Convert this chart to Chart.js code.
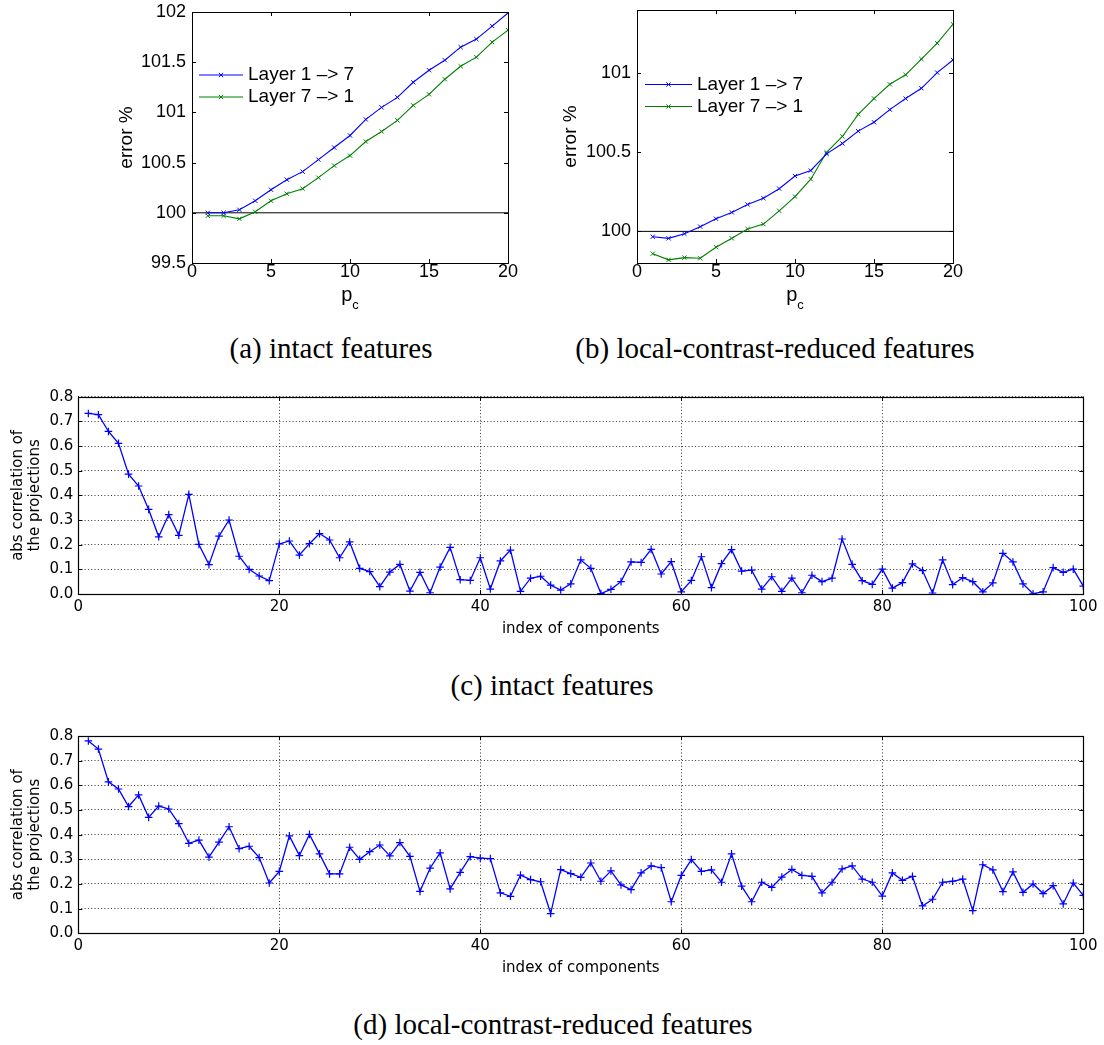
<!DOCTYPE html>
<html>
<head>
<meta charset="utf-8">
<script src="https://cdn.jsdelivr.net/npm/chart.js@4.4.0/dist/chart.umd.min.js"></script>
<style>
  body { margin: 0; background: #fff; }
  #page { position: relative; width: 1104px; height: 1045px; overflow: hidden; }
  canvas { position: absolute; }
  .caption {
    position: absolute; width: 600px; text-align: center; white-space: nowrap;
    font-family: "Liberation Serif", "Times New Roman", serif; font-size: 29px; line-height: 29px; color: #000;
  }
  .pc {
    position: absolute; width: 60px; text-align: center;
    font-family: "Liberation Sans", Arial, sans-serif; font-size: 20px; line-height: 18px; color: #000;
  }
  .pc sub { font-size: 13px; line-height: 0; vertical-align: -8px; }
</style>
</head>
<body>
<div id="page">
  <canvas id="errIntact" width="430" height="320" style="left:100px; top:0px;"></canvas>
  <canvas id="errReduced" width="430" height="320" style="left:545px; top:0px;"></canvas>
  <div class="pc" style="left:320px; top:285px;">p<sub>c</sub></div>
  <div class="pc" style="left:765px; top:285px;">p<sub>c</sub></div>
  <div class="caption" style="left:31px; top:334px;">(a) intact features</div>
  <div class="caption" style="left:475px; top:334px;">(b) local-contrast-reduced features</div>

  <canvas id="corrIntact" width="1104" height="270" style="left:0px; top:380px;"></canvas>
  <div class="caption" style="left:252px; top:671px;">(c) intact features</div>

  <canvas id="corrReduced" width="1104" height="270" style="left:0px; top:720px;"></canvas>
  <div class="caption" style="left:253px; top:1010px;">(d) local-contrast-reduced features</div>
</div>

<script>
/* ---------- data ---------- */
const pcValues = [1, 2, 3, 4, 5, 6, 7, 8, 9, 10, 11, 12, 13, 14, 15, 16, 17, 18, 19, 20];
const pcTicks = [0, 5, 10, 15, 20];
const refLevel = 100;

// error % for intact features
const errIntactFwd = [100.00, 100.00, 100.03, 100.12, 100.23, 100.33, 100.41, 100.53, 100.65, 100.77,
                      100.93, 101.05, 101.15, 101.30, 101.42, 101.52, 101.65, 101.73, 101.86, 101.99];
const errIntactBwd = [99.97, 99.97, 99.94, 100.01, 100.12, 100.19, 100.24, 100.35, 100.47, 100.57,
                      100.71, 100.81, 100.92, 101.07, 101.18, 101.33, 101.46, 101.55, 101.70, 101.82];
const errIntactTicks = [99.5, 100, 100.5, 101, 101.5, 102];
const errIntactLimits = [99.5, 102];

// error % for local-contrast-reduced features
const errReducedFwd = [99.966, 99.956, 99.985, 100.03, 100.08, 100.12, 100.17, 100.21, 100.27, 100.35,
                       100.385, 100.49, 100.556, 100.634, 100.69, 100.77, 100.84, 100.905, 101.004, 101.084];
const errReducedBwd = [99.859, 99.82, 99.834, 99.83, 99.90, 99.956, 100.015, 100.046, 100.13, 100.22,
                       100.33, 100.50, 100.60, 100.74, 100.84, 100.93, 100.99, 101.09, 101.19, 101.31];
const errReducedTicks = [100, 100.5, 101];
const errReducedLimits = [99.8, 101.4];

const seriesNames = ['Layer 1 –> 7', 'Layer 7 –> 1'];

// abs correlation of the projections, components 1..100
const corrIntact = [
  0.732, 0.727, 0.659, 0.611, 0.486, 0.438, 0.343, 0.232, 0.322, 0.238,
  0.404, 0.201, 0.119, 0.235, 0.300, 0.153, 0.100, 0.073, 0.054, 0.203,
  0.215, 0.158, 0.204, 0.245, 0.219, 0.147, 0.211, 0.104, 0.091, 0.030,
  0.089, 0.120, 0.012, 0.088, 0.005, 0.109, 0.189, 0.058, 0.055, 0.147,
  0.020, 0.134, 0.178, 0.011, 0.064, 0.072, 0.036, 0.016, 0.041, 0.138,
  0.104, 0.002, 0.019, 0.050, 0.130, 0.128, 0.181, 0.081, 0.131, 0.009,
  0.055, 0.151, 0.026, 0.123, 0.180, 0.093, 0.097, 0.020, 0.070, 0.011,
  0.064, 0.005, 0.076, 0.050, 0.064, 0.223, 0.120, 0.054, 0.039, 0.101,
  0.024, 0.046, 0.122, 0.095, 0.004, 0.138, 0.038, 0.066, 0.050, 0.009,
  0.045, 0.165, 0.130, 0.041, 0.001, 0.009, 0.107, 0.088, 0.101, 0.032
];
const corrReduced = [
  0.780, 0.747, 0.614, 0.585, 0.514, 0.561, 0.470, 0.516, 0.504, 0.445,
  0.365, 0.378, 0.309, 0.370, 0.432, 0.343, 0.353, 0.307, 0.204, 0.251,
  0.395, 0.315, 0.401, 0.322, 0.241, 0.241, 0.349, 0.300, 0.331, 0.358,
  0.314, 0.368, 0.312, 0.170, 0.264, 0.326, 0.180, 0.247, 0.311, 0.305,
  0.303, 0.164, 0.150, 0.236, 0.218, 0.209, 0.080, 0.258, 0.242, 0.227,
  0.285, 0.211, 0.253, 0.196, 0.177, 0.245, 0.273, 0.266, 0.128, 0.235,
  0.299, 0.251, 0.257, 0.207, 0.322, 0.191, 0.128, 0.207, 0.186, 0.228,
  0.259, 0.235, 0.231, 0.164, 0.207, 0.261, 0.273, 0.220, 0.207, 0.151,
  0.245, 0.215, 0.231, 0.111, 0.138, 0.207, 0.211, 0.220, 0.092, 0.278,
  0.257, 0.169, 0.249, 0.166, 0.200, 0.161, 0.193, 0.119, 0.204, 0.154
];
const indexTicks = [0, 20, 40, 60, 80, 100];
const corrTicks = [0, 0.1, 0.2, 0.3, 0.4, 0.5, 0.6, 0.7, 0.8];

/* ---------- styles ---------- */
const MATLAB_FONT = '"Liberation Sans", Arial, sans-serif';
const MPL_FONT = '"DejaVu Sans", sans-serif';
const BLUE = '#0000ff';
const GREEN = '#008000';

Chart.defaults.color = '#000';
Chart.defaults.animation = false;

function xy(xs, ys) {
    return ys.map((v, i) => ({ x: xs[i], y: v }));
}
function fixedTicks(list) {
    return s => { s.ticks = list.map(v => ({ value: v })); };
}

/* ---------- plugins ---------- */
// box around the plot area + inward tick marks on all four sides
const boxTicks = {
    id: 'boxTicks',
    afterDatasetsDraw(chart, args, opts) {
        const { ctx, chartArea: a, scales } = chart;
        const len = opts.len || 4;
        ctx.save();
        ctx.setLineDash([]);
        ctx.strokeStyle = '#000';
        ctx.lineWidth = 1;
        ctx.beginPath();
        scales.x.ticks.forEach(t => {
            const px = Math.round(scales.x.getPixelForValue(t.value)) + 0.5;
            ctx.moveTo(px, a.bottom); ctx.lineTo(px, a.bottom - len);
            ctx.moveTo(px, a.top); ctx.lineTo(px, a.top + len);
        });
        scales.y.ticks.forEach(t => {
            const py = Math.round(scales.y.getPixelForValue(t.value)) + 0.5;
            ctx.moveTo(a.left, py); ctx.lineTo(a.left + len, py);
            ctx.moveTo(a.right, py); ctx.lineTo(a.right - len, py);
        });
        ctx.stroke();
        ctx.lineWidth = opts.frame || 1;
        ctx.strokeRect(Math.round(a.left) + 0.5, Math.round(a.top) + 0.5,
                       Math.round(a.right - a.left), Math.round(a.bottom - a.top));
        ctx.restore();
    }
};

// matlab style legend: short line with the marker in its middle, then the label
const lineLegend = {
    id: 'lineLegend',
    afterDraw(chart, args, opts) {
        if (!opts.items) return;
        const { ctx } = chart;
        ctx.save();
        ctx.font = opts.font;
        ctx.textBaseline = 'middle';
        opts.items.forEach((idx, row) => {
            const ds = chart.data.datasets[idx];
            const y = opts.y + row * opts.rowH;
            ctx.strokeStyle = ds.borderColor;
            ctx.lineWidth = ds.borderWidth;
            ctx.beginPath();
            ctx.moveTo(opts.x, y);
            ctx.lineTo(opts.x + opts.lineLen, y);
            ctx.stroke();
            ctx.lineWidth = ds.pointBorderWidth;
            Chart.helpers.drawPoint(ctx, { pointStyle: ds.pointStyle, radius: ds.pointRadius, borderWidth: 1, rotation: 0 },
                                    opts.x + opts.lineLen / 2, y);
            ctx.fillStyle = '#000';
            ctx.fillText(ds.label, opts.x + opts.lineLen + opts.gap, y);
        });
        ctx.restore();
    }
};

/* ---------- error % charts (top row) ---------- */
function errorChart(id, fwd, bwd, yTicks, yLimits, legendPos, titlePad) {
    const series = (label, values, color) => ({
        label, data: xy(pcValues, values),
        borderColor: color, borderWidth: 1.1,
        pointStyle: 'crossRot', pointRadius: 3, pointBorderWidth: 1,
        pointBorderColor: color, pointBackgroundColor: color,
        tension: 0
    });
    return new Chart(document.getElementById(id), {
        type: 'line',
        data: {
            datasets: [
                series(seriesNames[0], fwd, BLUE),
                series(seriesNames[1], bwd, GREEN),
                {
                    label: 'reference',
                    data: [{ x: pcTicks[0], y: refLevel }, { x: pcTicks[pcTicks.length - 1], y: refLevel }],
                    borderColor: '#000', borderWidth: 1, pointRadius: 0
                }
            ]
        },
        options: {
            responsive: false,
            devicePixelRatio: 1,
            events: [],
            layout: { padding: { left: 0, right: 22, top: legendPos.top, bottom: 0 } },
            plugins: {
                legend: { display: false },
                tooltip: { enabled: false },
                boxTicks: { len: 4 },
                lineLegend: { items: [0, 1], x: legendPos.x, y: legendPos.y, rowH: 22, lineLen: legendPos.len, gap: 5,
                              font: '19px ' + MATLAB_FONT }
            },
            scales: {
                x: {
                    type: 'linear', min: pcTicks[0], max: pcTicks[pcTicks.length - 1],
                    afterBuildTicks: fixedTicks(pcTicks),
                    afterFit: s => { s.height = 57; s.paddingLeft = 0; s.paddingRight = 0; },
                    grid: { display: false, drawTicks: false },
                    border: { display: false },
                    ticks: { padding: 0.5, autoSkip: false, maxRotation: 0,
                             font: { family: MATLAB_FONT, size: 18, lineHeight: 1 } }
                },
                y: {
                    type: 'linear', min: yLimits[0], max: yLimits[1],
                    afterBuildTicks: fixedTicks(yTicks),
                    afterFit: s => { s.width = 92; s.paddingTop = 0; s.paddingBottom = 0; },
                    grid: { display: false, drawTicks: false },
                    border: { display: false },
                    ticks: { padding: 6, autoSkip: false, callback: v => String(v),
                             font: { family: MATLAB_FONT, size: 18, lineHeight: 1 } },
                    title: { display: true, text: 'error %', padding: { top: titlePad },
                             font: { family: MATLAB_FONT, size: 19, lineHeight: 1.2 } }
                }
            }
        },
        plugins: [boxTicks, lineLegend]
    });
}

errorChart('errIntact', errIntactFwd, errIntactBwd, errIntactTicks, errIntactLimits,
           { top: 12, x: 99, y: 75, len: 44 }, 15.6);
errorChart('errReduced', errReducedFwd, errReducedBwd, errReducedTicks, errReducedLimits,
           { top: 10, x: 100, y: 84.5, len: 47 }, 14.6);

/* ---------- correlation charts (bottom rows) ---------- */
function corrChart(id, values, padTop, axisH, xTitlePad) {
    return new Chart(document.getElementById(id), {
        type: 'line',
        data: {
            datasets: [{
                label: 'abs correlation',
                data: values.map((v, i) => ({ x: i + 1, y: v })),
                borderColor: BLUE, borderWidth: 1.3,
                pointStyle: 'cross', pointRadius: 3.8, pointBorderWidth: 1.2,
                pointBorderColor: BLUE, tension: 0
            }]
        },
        options: {
            responsive: false,
            devicePixelRatio: 1,
            events: [],
            layout: { padding: { left: 0, right: 20.7, top: padTop, bottom: 0 } },
            plugins: {
                legend: { display: false },
                tooltip: { enabled: false },
                boxTicks: { len: 4, frame: 1.2 }
            },
            scales: {
                x: {
                    type: 'linear', min: indexTicks[0], max: indexTicks[indexTicks.length - 1],
                    afterBuildTicks: fixedTicks(indexTicks),
                    afterFit: s => { s.height = axisH; s.paddingLeft = 0; s.paddingRight = 0; },
                    grid: { color: 'rgba(0,0,0,0.8)', lineWidth: 1, drawTicks: false },
                    border: { display: false, dash: [1, 2.3] },
                    ticks: { padding: 4, autoSkip: false, maxRotation: 0,
                             font: { family: MPL_FONT, size: 15, lineHeight: 1.2 } },
                    title: { display: true, text: 'index of components', padding: { top: 0, bottom: xTitlePad },
                             font: { family: MPL_FONT, size: 15, lineHeight: 1.2 } }
                },
                y: {
                    type: 'linear', min: corrTicks[0], max: corrTicks[corrTicks.length - 1],
                    afterBuildTicks: fixedTicks(corrTicks),
                    afterFit: s => { s.width = 78.3; s.paddingTop = 0; s.paddingBottom = 0; },
                    grid: { color: 'rgba(0,0,0,0.8)', lineWidth: 1, drawTicks: false },
                    border: { display: false, dash: [1, 2.3] },
                    ticks: { padding: 5, autoSkip: false, callback: v => v.toFixed(1),
                             font: { family: MPL_FONT, size: 15, lineHeight: 1.2 } },
                    title: { display: true, text: ['abs correlation of', 'the projections'], padding: { top: 10 },
                             font: { family: MPL_FONT, size: 15, lineHeight: 1.1 } }
                }
            }
        },
        plugins: [boxTicks]
    });
}

corrChart('corrIntact', corrIntact, 16.7, 56, 11.7);
corrChart('corrReduced', corrReduced, 16, 56.7, 12.4);
</script>
</body>
</html>
